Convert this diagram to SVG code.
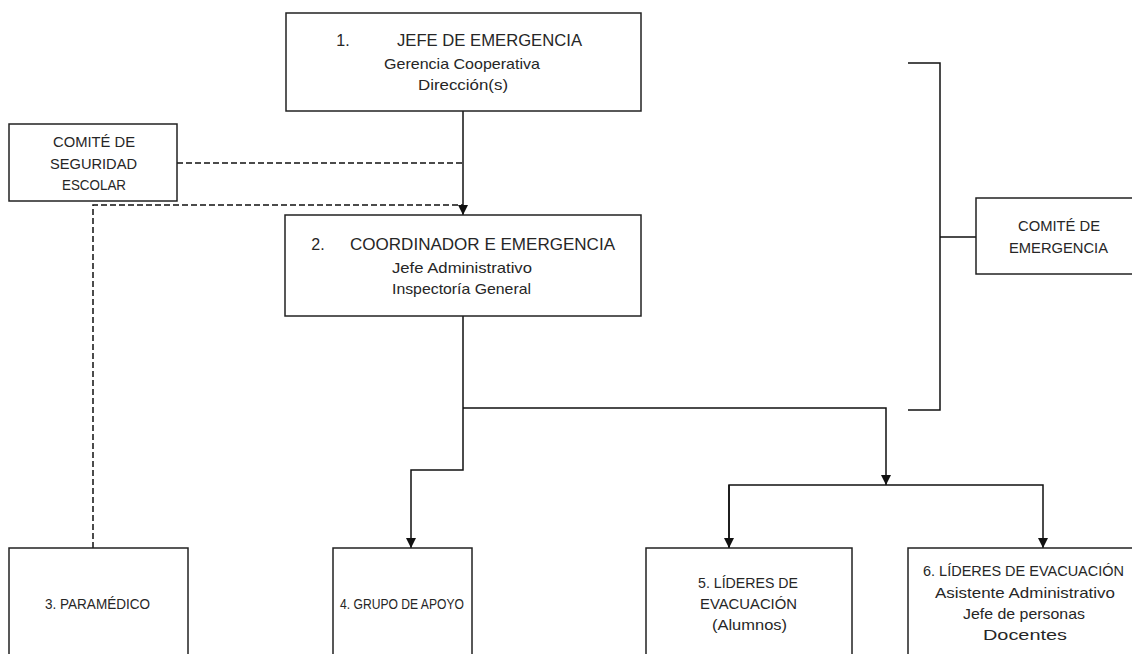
<svg xmlns="http://www.w3.org/2000/svg" width="1132" height="654" viewBox="0 0 1132 654">
<style>
.box{fill:#fff;stroke:#222;stroke-width:1.5}
.t{font-family:"Liberation Sans",Arial,sans-serif;font-size:16px;fill:#262626;text-anchor:middle}
.s{font-family:"Liberation Sans",Arial,sans-serif;font-size:14.5px;fill:#262626;text-anchor:middle}
.ln{fill:none;stroke:#111;stroke-width:1.5}
.dash{fill:none;stroke:#111;stroke-width:1.5;stroke-dasharray:6 3}
</style>
<defs>
<marker id="arr" viewBox="0 0 10 10" refX="10" refY="5" markerWidth="10" markerHeight="10" markerUnits="userSpaceOnUse" orient="auto">
<path d="M0,0 L10,5 L0,10 Z" fill="#111"/>
</marker>
</defs>
<rect width="1132" height="654" fill="#fff"/>
<g id="connectors">
<path class="ln" d="M463,111 V215" marker-end="url(#arr)"/>
<path class="dash" d="M177,163 H463"/>
<path class="dash" d="M93,548 V205 H463"/>
<path class="ln" d="M463,316 V470 H411 V548" marker-end="url(#arr)"/>
<path class="ln" d="M463,408 H886 V485" marker-end="url(#arr)"/>
<path class="ln" d="M729,548 V485 H1043 V548" marker-end="url(#arr)"/>
<path class="ln" d="M729,485 V548" marker-end="url(#arr)"/>
<path class="ln" d="M908,63 H940 V410 H908 M940,237 H976"/>
</g>
<g id="n1">
<rect class="box" x="286" y="13" width="355" height="98"/>
<text class="t" x="343" y="46" text-anchor="start">1.</text>
<text class="t" x="489.5" y="46" textLength="185" lengthAdjust="spacingAndGlyphs">JEFE DE EMERGENCIA</text>
<text class="s" x="462" y="69" textLength="156" lengthAdjust="spacingAndGlyphs">Gerencia Cooperativa</text>
<text class="s" x="463" y="90" textLength="90" lengthAdjust="spacingAndGlyphs">Dirección(s)</text>
</g>
<g id="comite-seguridad">
<rect class="box" x="9" y="124" width="168" height="77"/>
<text class="s" x="94" y="147" textLength="82" lengthAdjust="spacingAndGlyphs">COMITÉ DE</text>
<text class="s" x="93.5" y="169" textLength="87" lengthAdjust="spacingAndGlyphs">SEGURIDAD</text>
<text class="s" x="94" y="190" textLength="64" lengthAdjust="spacingAndGlyphs">ESCOLAR</text>
</g>
<g id="n2">
<rect class="box" x="285" y="215" width="356" height="101"/>
<text class="t" x="318" y="250" text-anchor="start">2.</text>
<text class="t" x="482.5" y="250" textLength="265" lengthAdjust="spacingAndGlyphs">COORDINADOR E EMERGENCIA</text>
<text class="s" x="462" y="273" textLength="140" lengthAdjust="spacingAndGlyphs">Jefe Administrativo</text>
<text class="s" x="461.5" y="294" textLength="139" lengthAdjust="spacingAndGlyphs">Inspectoría General</text>
</g>
<g id="comite-emergencia">
<rect class="box" x="976" y="198" width="170" height="76"/>
<text class="s" x="1059" y="231" textLength="82" lengthAdjust="spacingAndGlyphs">COMITÉ DE</text>
<text class="s" x="1058.5" y="253" textLength="99" lengthAdjust="spacingAndGlyphs">EMERGENCIA</text>
</g>
<g id="n3">
<rect class="box" x="9" y="548" width="179" height="120"/>
<text class="s" x="97.5" y="609" textLength="105" lengthAdjust="spacingAndGlyphs">3. PARAMÉDICO</text>
</g>
<g id="n4">
<rect class="box" x="333" y="548" width="139" height="120"/>
<text class="s" x="402" y="609" textLength="124" lengthAdjust="spacingAndGlyphs">4. GRUPO DE APOYO</text>
</g>
<g id="n5">
<rect class="box" x="646" y="548" width="206" height="120"/>
<text class="s" x="748" y="588" textLength="100" lengthAdjust="spacingAndGlyphs">5. LÍDERES DE</text>
<text class="s" x="748.5" y="609" textLength="97" lengthAdjust="spacingAndGlyphs">EVACUACIÓN</text>
<text class="s" x="749.5" y="630" textLength="75" lengthAdjust="spacingAndGlyphs">(Alumnos)</text>
</g>
<g id="n6">
<rect class="box" x="908" y="548" width="240" height="120"/>
<text class="s" x="1023.5" y="576" textLength="201" lengthAdjust="spacingAndGlyphs">6. LÍDERES DE EVACUACIÓN</text>
<text class="s" x="1025" y="598" textLength="180" lengthAdjust="spacingAndGlyphs">Asistente Administrativo</text>
<text class="s" x="1024" y="619" textLength="122" lengthAdjust="spacingAndGlyphs">Jefe de personas</text>
<text class="s" x="1025" y="640" textLength="84" lengthAdjust="spacingAndGlyphs">Docentes</text>
</g>
</svg>
